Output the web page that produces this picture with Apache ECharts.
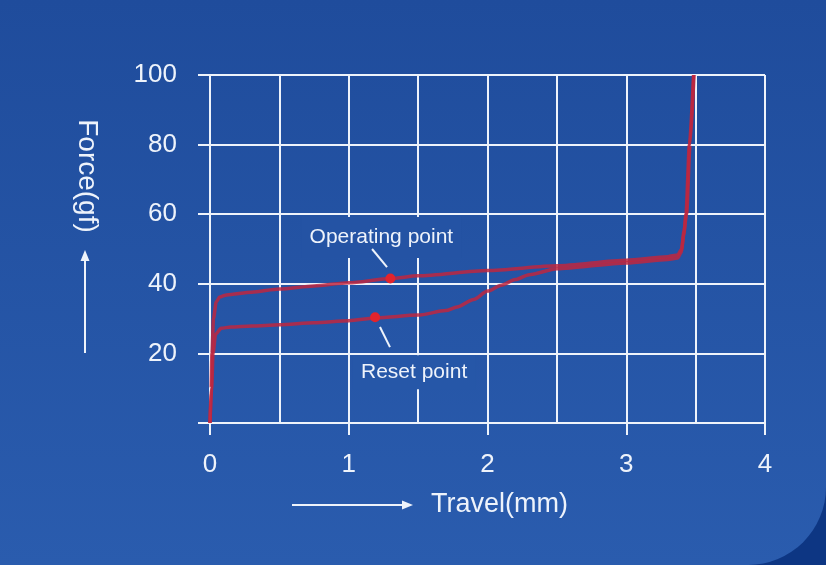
<!DOCTYPE html>
<html><head><meta charset="utf-8">
<script src="https://cdn.jsdelivr.net/npm/echarts@6/dist/echarts.min.js"></script>
<style>html,body{margin:0;padding:0;background:#0d3683}#c{width:826px;height:565px}</style>
</head><body><div id="c"></div>
<script>
// ---- data ----
const xAxisName = 'Travel(mm)';
const yAxisName = 'Force(gf)';
const xRange = [0, 4];
const yRange = [0, 100];
const operatingCurve = [
  [0,0],[0.008,10],[0.014,20],[0.025,30],[0.045,34.8],[0.07,36.2],[0.12,36.8],[0.3,37.6],
  [0.5,38.5],[0.75,39.4],[1.0,40.3],[1.3,41.5],[1.5,42.3],[2.0,43.8],[2.5,45.2],
  [3.0,46.8],[3.3,47.8],[3.37,48.3],[3.40,50],[3.415,55],[3.435,60],[3.46,80],[3.488,100]
];
const resetCurve = [
  [0,0],[0.012,10],[0.022,20],[0.04,25.5],[0.08,27.2],[0.15,27.6],[0.3,27.9],[0.5,28.2],
  [0.75,28.8],[1.0,29.4],[1.2,30.2],[1.5,31.0],[1.7,32.3],[1.78,33.3],[1.9,35.5],
  [2.0,37.9],[2.1,39.6],[2.2,41.2],[2.3,42.6],[2.5,44.3],[3.0,46.0],[3.3,47.0],
  [3.37,47.4],[3.395,49],[3.415,54],[3.43,60],[3.455,80],[3.485,100]
];
const operatingPoint = [1.30, 41.5];
const resetPoint = [1.19, 30.4];
const operatingLeader = [[1.168, 50.0], [1.276, 44.8]];
const resetLeader = [[1.225, 27.6], [1.297, 21.8]];
const pointLabels = ['Operating point', 'Reset point'];

// ---- style ----
const white = '#eef3fb';
const curveColor = '#be2740';
const font = '"Liberation Sans", Arial, Helvetica, sans-serif';

const chart = echarts.init(document.getElementById('c'), null, {renderer: 'canvas'});
const option = {
  backgroundColor: '#0d3683',
  animation: false,
  grid: {left: 210, right: 61, top: 75, bottom: 142, containLabel: false, outerBoundsMode: 'none'},
  xAxis: {
    type: 'value', min: xRange[0], max: xRange[1], interval: 1,
    axisLine: {show: true, lineStyle: {color: white, width: 2}},
    axisTick: {show: true, length: 12, lineStyle: {color: white, width: 2}},
    minorTick: {show: false, splitNumber: 2},
    splitLine: {show: true, lineStyle: {color: white, width: 2}},
    minorSplitLine: {show: true, lineStyle: {color: white, width: 2}},
    axisLabel: {color: white, fontSize: 26, fontFamily: font, margin: 29}
  },
  yAxis: {
    type: 'value', min: yRange[0], max: yRange[1], interval: 20,
    axisLine: {show: true, lineStyle: {color: white, width: 2}},
    axisTick: {show: true, length: 12, lineStyle: {color: white, width: 2}},
    splitLine: {show: true, lineStyle: {color: white, width: 2}},
    axisLabel: {color: white, fontSize: 26, fontFamily: font, margin: 33,
      formatter: v => v === 0 ? '' : String(v)}
  },
  graphic: [
    {type: 'rect', z: -100, silent: true,
      shape: {x: 0, y: 0, width: 826, height: 565, r: [0, 0, 78, 0]},
      style: {fill: new echarts.graphic.LinearGradient(0, 0, 0, 1, [
        {offset: 0, color: '#1f4c9c'}, {offset: 1, color: '#2a5cae'}])}},
    {type: 'text', z: 10, x: 431, y: 505,
      style: {text: xAxisName, fill: white, font: '27px ' + font, verticalAlign: 'middle'}},
    {type: 'line', z: 10, shape: {x1: 292, y1: 505, x2: 404, y2: 505}, style: {stroke: white, lineWidth: 2}},
    {type: 'polygon', z: 10, shape: {points: [[413, 505], [402, 500.5], [402, 509.5]]}, style: {fill: white}},
    {type: 'text', z: 10, x: 87, y: 176, rotation: -Math.PI / 2,
      style: {text: yAxisName, fill: white, font: '28px ' + font, align: 'center', verticalAlign: 'middle'}},
    {type: 'line', z: 10, shape: {x1: 85, y1: 353, x2: 85, y2: 259}, style: {stroke: white, lineWidth: 2}},
    {type: 'polygon', z: 10, shape: {points: [[85, 250], [80.5, 261], [89.5, 261]]}, style: {fill: white}}
  ],
  series: [
    {type: 'line', data: resetCurve, showSymbol: false, smooth: 0.25, smoothMonotone: 'x',
      lineStyle: {color: curveColor, width: 3.5, opacity: 0.85}, z: 3},
    {type: 'line', data: operatingCurve, showSymbol: false, smooth: 0.25, smoothMonotone: 'x',
      lineStyle: {color: curveColor, width: 3.5, opacity: 0.85}, z: 3},
    {type: 'scatter', z: 5, symbolSize: 10, itemStyle: {color: '#e2242c', opacity: 1},
      data: [
        {value: operatingPoint, name: pointLabels[0], label: {
          show: true, formatter: pointLabels[0], position: 'inside', offset: [-9, -41],
          backgroundColor: '#2453a4', padding: [9, 8, 10, 8]}},
        {value: resetPoint, name: pointLabels[1], label: {
          show: true, formatter: pointLabels[1], position: 'inside', offset: [39, 55],
          backgroundColor: '#2657a8', padding: [2, 8, 10, 8]}}
      ],
      label: {color: white, opacity: 1, fontSize: 21, fontFamily: font, lineHeight: 22,
        align: 'center', verticalAlign: 'middle', textBorderWidth: 0}
    },
    {type: 'line', data: operatingLeader, showSymbol: false, lineStyle: {color: white, width: 2}, z: 8},
    {type: 'line', data: resetLeader, showSymbol: false, lineStyle: {color: white, width: 2}, z: 8}
  ]
};
chart.setOption(option);
</script></body></html>
